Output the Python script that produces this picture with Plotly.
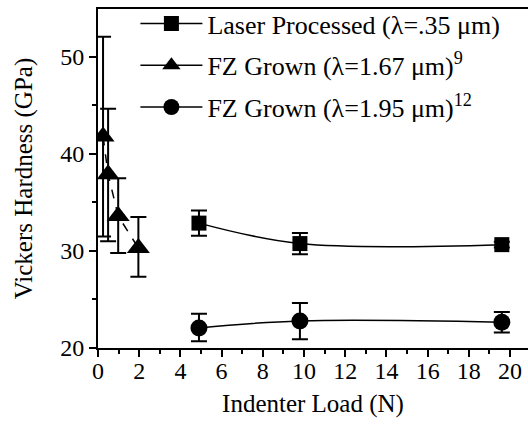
import plotly.graph_objects as go

FONT = "Liberation Serif"
TICK_FS = 24
TITLE_FS = 25
LEG_FS = 26

# Data
laser_x = [4.9, 9.8, 19.6]
laser_y = [32.87, 30.76, 30.65]
laser_err_plus = [1.3, 1.09, 0.3]
laser_err_minus = [1.3, 1.09, 0.3]

fz167_x = [0.245, 0.49, 0.98, 1.96]
fz167_y = [41.8, 37.9, 33.6, 30.3]
fz167_err_plus = [10.27, 6.75, 3.9, 3.2]
fz167_err_minus = [10.3, 6.9, 3.8, 2.95]

fz195_x = [4.9, 9.8, 19.6]
fz195_y = [22.07, 22.79, 22.66]
fz195_err_plus = [1.47, 1.84, 1.04]
fz195_err_minus = [1.37, 1.9, 1.06]

names = [
    "Laser Processed (λ=.35 μm)",
    "FZ Grown (λ=1.67 μm)<sup>9</sup>",
    "FZ Grown (λ=1.95 μm)<sup>12</sup>",
]

x_ticks = list(range(0, 21, 2))
y_ticks = [20, 30, 40, 50]

fig = go.Figure()

def err(plus, minus):
    return dict(type="data", array=plus, arrayminus=minus, symmetric=False,
                color="black", thickness=2, width=8)

fig.add_trace(go.Scatter(
    x=laser_x, y=laser_y, mode="lines+markers", name=names[0],
    legendgroup="a",
    line=dict(color="black", width=1.5, shape="spline", smoothing=1.0),
    marker=dict(symbol="square", size=15, color="black"),
    error_y=err(laser_err_plus, laser_err_minus),
))
fig.add_trace(go.Scatter(
    x=fz167_x, y=fz167_y, mode="lines+markers", name=names[1],
    legendgroup="b", showlegend=False,
    line=dict(color="black", width=1.5, dash="dash"),
    marker=dict(symbol="triangle-up", size=20, color="black"),
    error_y=err(fz167_err_plus, fz167_err_minus),
))
fig.add_trace(go.Scatter(
    x=[None], y=[None], mode="lines+markers", name=names[1],
    legendgroup="b",
    line=dict(color="black", width=1.5),
    marker=dict(symbol="triangle-up", size=20, color="black"),
))
fig.add_trace(go.Scatter(
    x=fz195_x, y=fz195_y, mode="lines+markers", name=names[2],
    legendgroup="c",
    line=dict(color="black", width=1.5, shape="spline", smoothing=1.0),
    marker=dict(symbol="circle", size=17, color="black"),
    error_y=err(fz195_err_plus, fz195_err_minus),
))

fig.update_layout(
    width=528, height=424,
    margin=dict(l=98, r=0, t=6, b=76),
    paper_bgcolor="white", plot_bgcolor="white",
    font=dict(family=FONT, size=TICK_FS, color="black"),
    showlegend=True,
    legend=dict(
        x=0.087, y=1.027, xanchor="left", yanchor="top",
        bgcolor="rgba(0,0,0,0)", borderwidth=0,
        itemwidth=62, traceorder="grouped", tracegroupgap=5,
        font=dict(family=FONT, size=LEG_FS, color="black"),
    ),
    xaxis=dict(
        range=[0, 20.87], tickvals=x_ticks, ticktext=[str(v) for v in x_ticks],
        showline=True, linecolor="black", linewidth=2, mirror=True,
        ticks="outside", ticklen=7, tickwidth=2, tickcolor="black",
        minor=dict(ticks="outside", ticklen=4, tickwidth=2, dtick=1, tick0=0, tickcolor="black"),
        showgrid=False, zeroline=False, ticklabelstandoff=-7,
        tickfont=dict(family=FONT, size=TICK_FS, color="black"),
        title=dict(text="Indenter Load (N)", standoff=12,
                   font=dict(family=FONT, size=TITLE_FS, color="black")),
    ),
    yaxis=dict(
        range=[20, 54.93], tickvals=y_ticks, ticktext=[str(v) for v in y_ticks],
        showline=True, linecolor="black", linewidth=2, mirror=False,
        ticks="outside", ticklen=7, tickwidth=2, tickcolor="black",
        minor=dict(ticks="outside", ticklen=4, tickwidth=2, dtick=5, tick0=20, tickcolor="black"),
        showgrid=False, zeroline=False,
        tickfont=dict(family=FONT, size=TICK_FS, color="black"),
        title=dict(text="Vickers Hardness (GPa)", standoff=20,
                   font=dict(family=FONT, size=TITLE_FS, color="black")),
    ),
)

fig.write_html("out.html")
